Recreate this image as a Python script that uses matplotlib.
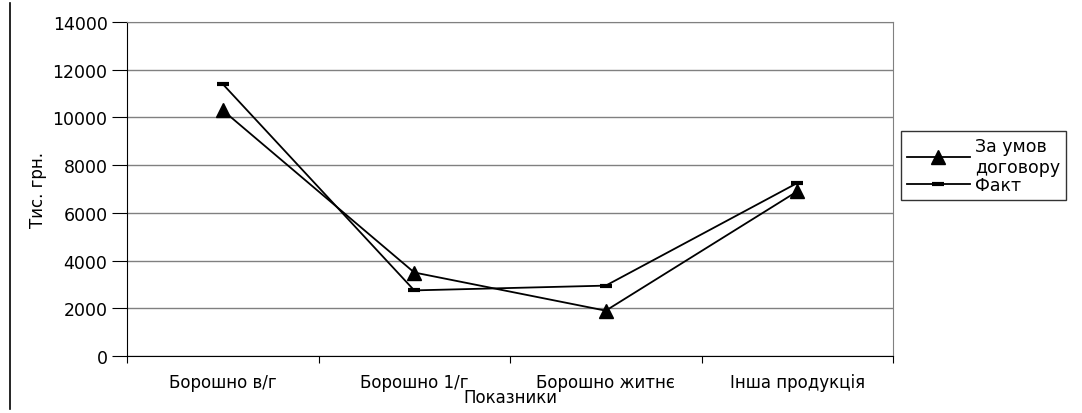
import matplotlib
matplotlib.use('Agg')
import numpy as np
from matplotlib import pyplot as plt
from matplotlib.lines import Line2D

plt.rcParams['font.family'] = ['DejaVu Sans']

categories = ['Борошно в/г', 'Борошно 1/г', 'Борошно житнє', 'Інша продукція']
plan = [10300, 3500, 1900, 6900]
fact = [11400, 2750, 2950, 7250]
yticks = [0, 2000, 4000, 6000, 8000, 10000, 12000, 14000]

fig = plt.figure(figsize=(10.82, 4.14), dpi=100)
ax = fig.add_axes([127 / 1082, 1 - 357 / 414, (893 - 127) / 1082, (357 - 23) / 414])

x = np.arange(len(categories))
ax.plot(x, plan, color='black', lw=1.3, marker='^', ms=10, label='За умов\nдоговору')
ax.plot(x, fact, color='black', lw=1.3, marker='_', ms=8, mew=3, label='Факт')

ax.set_xlim(-0.5, len(categories) - 0.5)
ax.set_ylim(0, 14000)
ax.set_yticks(yticks)
ax.yaxis.grid(True, color='#808080', lw=1)
ax.set_axisbelow(True)

# ticks between categories, labels at centres
ax.set_xticks(np.arange(len(categories) + 1) - 0.5)
ax.set_xticklabels([])
ax.set_xticks(x, minor=True)
ax.set_xticklabels(categories, minor=True, fontsize=12)
ax.tick_params(axis='x', which='major', direction='out', length=5, color='black')
ax.tick_params(axis='x', which='minor', length=0, pad=12)
ax.tick_params(axis='y', direction='out', length=11, pad=3, labelsize=12.5)

for side in ['top', 'right']:
    ax.spines[side].set_color('#808080')
for side in ['left', 'bottom']:
    ax.spines[side].set_color('black')

ax.set_xlabel('Показники', fontsize=12, labelpad=-2)
ax.set_ylabel('Тис. грн.', fontsize=12, labelpad=4)

leg = ax.legend(loc='upper left', bbox_to_anchor=(901 / 1082, 1 - 132 / 414),
                bbox_transform=fig.transFigure, frameon=True, fancybox=False,
                edgecolor='black', fontsize=12.5, labelspacing=0.0,
                handlelength=3.6, handletextpad=0.3, borderpad=0.35,
                borderaxespad=0)
leg.get_frame().set_linewidth(1)

# left border line of the figure
fig.add_artist(Line2D([10 / 1082, 10 / 1082], [0.01, 0.99], color='black', lw=1.2,
                      transform=fig.transFigure))

fig.savefig('out.png', dpi=100)
